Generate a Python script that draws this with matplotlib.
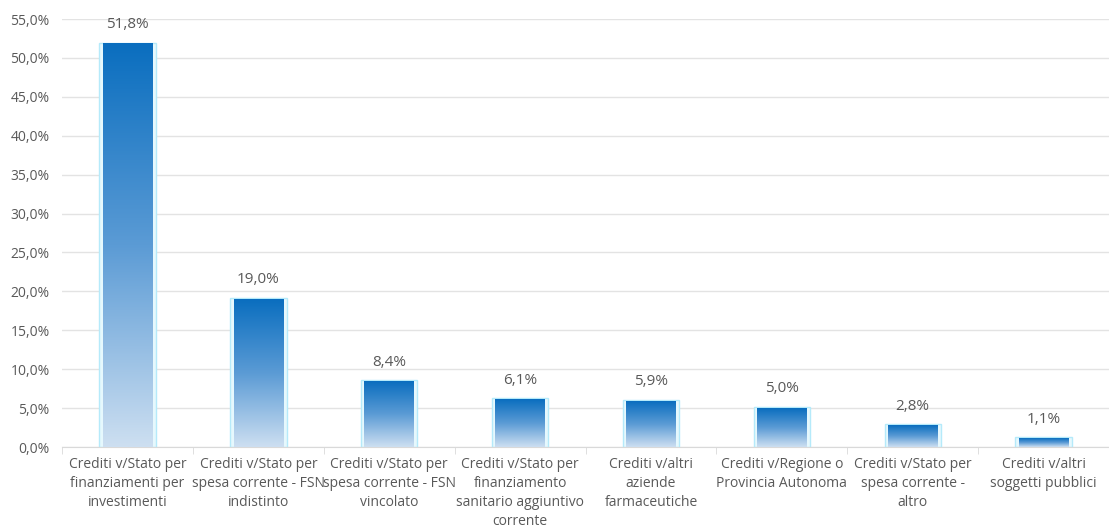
import matplotlib
matplotlib.use('Agg')
import matplotlib.pyplot as plt
from matplotlib.colors import LinearSegmentedColormap
from matplotlib.patches import Rectangle
import numpy as np

categorie = [
    "Crediti v/Stato per\nfinanziamenti per\ninvestimenti",
    "Crediti v/Stato per\nspesa corrente - FSN\nindistinto",
    "Crediti v/Stato per\nspesa corrente - FSN\nvincolato",
    "Crediti v/Stato per\nfinanziamento\nsanitario aggiuntivo\ncorrente",
    "Crediti v/altri\naziende\nfarmaceutiche",
    "Crediti v/Regione o\nProvincia Autonoma",
    "Crediti v/Stato per\nspesa corrente -\naltro",
    "Crediti v/altri\nsoggetti pubblici",
]
valori = [51.8, 19.0, 8.4, 6.1, 5.9, 5.0, 2.8, 1.1]
etichette = ["51,8%", "19,0%", "8,4%", "6,1%", "5,9%", "5,0%", "2,8%", "1,1%"]
yticks = [0, 5, 10, 15, 20, 25, 30, 35, 40, 45, 50, 55]

plt.rcParams['font.family'] = ['Open Sans', 'DejaVu Sans']
grigio = "#595959"

fig = plt.figure(figsize=(11.09, 5.29), dpi=100)
ax = fig.add_axes([0.056, 0.155, 0.944, 0.809])

cmap = LinearSegmentedColormap.from_list("grad", ["#cddff1", "#5b9bd5", "#0a6ebf"])
grad = np.linspace(0, 1, 256).reshape(-1, 1)

x = np.arange(len(valori))
larghezza = 0.38
for xi, v, lab in zip(x, valori, etichette):
    # bagliore azzurro attorno alla barra
    ax.add_patch(Rectangle((xi - larghezza / 2 - 0.025, 0), larghezza + 0.05, v + 0.15,
                           facecolor="#e6f8fd", edgecolor="#b5eafa", lw=1.0, zorder=2))
    ax.imshow(grad, cmap=cmap, aspect="auto", origin="lower",
              extent=(xi - larghezza / 2, xi + larghezza / 2, 0, v), zorder=3)
    ax.text(xi, v + 1.5, lab, ha="center", va="bottom", fontsize=11, color=grigio)

ax.set_xlim(-0.5, len(valori) - 0.5)
ax.set_ylim(0, 55)
ax.set_yticks(yticks)
ax.set_yticklabels([f"{t},0%" for t in yticks], fontsize=10, color=grigio)
ax.set_xticks(x)
ax.set_xticklabels(categorie, fontsize=10, color=grigio, linespacing=1.38)
ax.set_xticks(np.arange(len(valori) + 1) - 0.5, minor=True)
ax.tick_params(axis="x", which="major", length=0, pad=7)
ax.tick_params(axis="x", which="minor", length=5, color="#d9d9d9")
ax.tick_params(axis="y", length=0, pad=9)
ax.grid(axis="y", color="#e3e3e3", lw=1, zorder=0)
ax.set_axisbelow(True)
for s in ["top", "right", "left"]:
    ax.spines[s].set_visible(False)
ax.spines["bottom"].set_color("#d9d9d9")

fig.savefig("out.png", dpi=100)
